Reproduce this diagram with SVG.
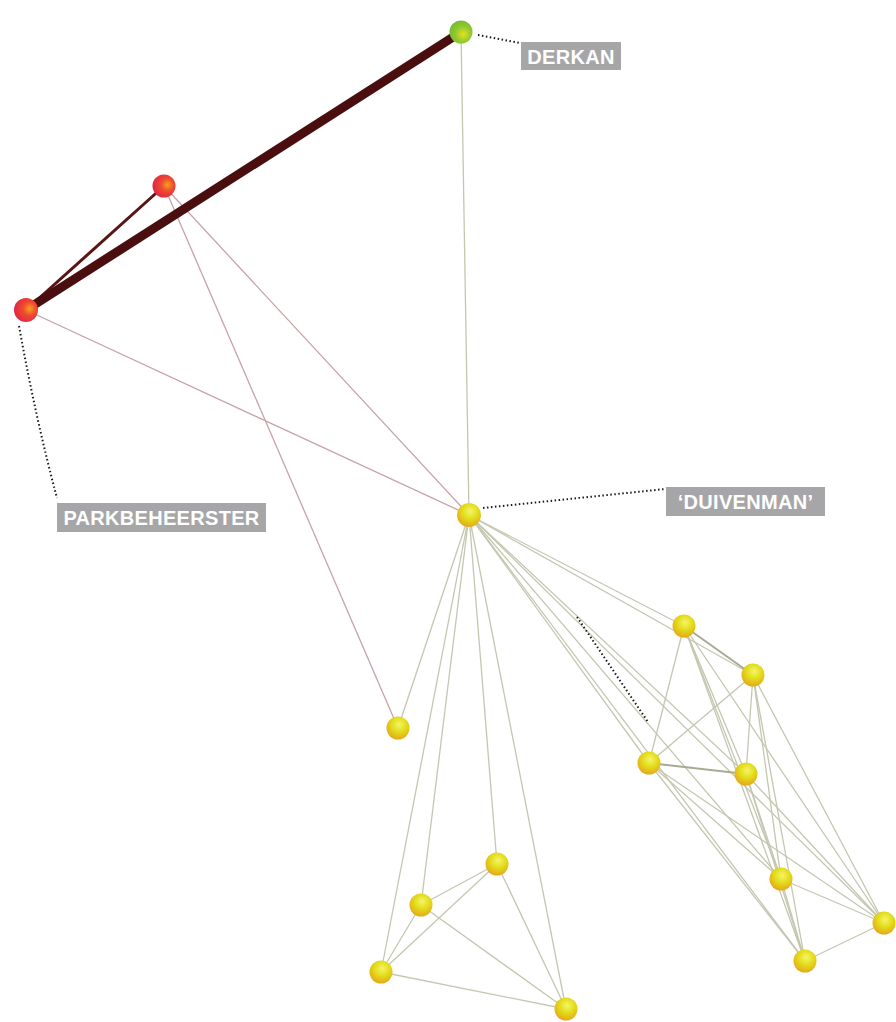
<svg xmlns="http://www.w3.org/2000/svg" width="896" height="1022" viewBox="0 0 896 1022">
<defs>
<radialGradient id="gy" cx="0.55" cy="0.35" r="0.7">
<stop offset="0" stop-color="#f6f36a"/>
<stop offset="0.45" stop-color="#e2de1c"/>
<stop offset="1" stop-color="#e6a018"/>
</radialGradient>
<radialGradient id="gr" cx="0.65" cy="0.45" r="0.7">
<stop offset="0" stop-color="#f7a020"/>
<stop offset="0.4" stop-color="#ee4a30"/>
<stop offset="1" stop-color="#e02048"/>
</radialGradient>
<radialGradient id="gg" cx="0.6" cy="0.6" r="0.7">
<stop offset="0" stop-color="#e8e020"/>
<stop offset="0.5" stop-color="#90c830"/>
<stop offset="1" stop-color="#6cb830"/>
</radialGradient>
</defs>
<style>
.e{stroke:#c4c7b0;stroke-width:1.3;fill:none}
.e2{stroke:#a8ab92;stroke-width:2;fill:none}
.p{stroke:#c8a2a6;stroke-width:1.3;fill:none}
.d{stroke:#1a1a1a;stroke-width:2;stroke-dasharray:1.5 2.5;fill:none}
.lb{fill:#a6a6a8}
.lt{fill:#ffffff;font-family:"Liberation Sans",Arial,sans-serif;font-weight:bold;font-size:20px;letter-spacing:0.3px}
</style>
<rect width="896" height="1022" fill="#ffffff"/>
<g id="connectors">
<line class="e" x1="461" y1="32" x2="469" y2="515"/>
<line class="p" x1="164" y1="186" x2="469" y2="515"/>
<line class="p" x1="164" y1="186" x2="398" y2="728"/>
<line class="p" x1="26" y1="310" x2="469" y2="515"/>
<line x1="26" y1="310" x2="164" y2="186" stroke="#5a1414" stroke-width="3"/>
<line x1="26" y1="310" x2="461" y2="32" stroke="#4a0e0e" stroke-width="9"/>
<line class="e" x1="469" y1="515" x2="398" y2="728"/>
<line class="e" x1="469" y1="515" x2="497" y2="864"/>
<line class="e" x1="469" y1="515" x2="421" y2="905"/>
<line class="e" x1="469" y1="515" x2="381" y2="972"/>
<line class="e" x1="469" y1="515" x2="566" y2="1009"/>
<line class="e" x1="469" y1="515" x2="684" y2="626"/>
<line class="e" x1="469" y1="515" x2="753" y2="675"/>
<line class="e" x1="469" y1="515" x2="649" y2="763"/>
<line class="e" x1="469" y1="515" x2="746" y2="774"/>
<line class="e" x1="469" y1="515" x2="781" y2="879"/>
<line class="e" x1="469" y1="515" x2="884" y2="923"/>
<line class="e" x1="469" y1="515" x2="805" y2="961"/>
<line class="e" x1="497" y1="864" x2="421" y2="905"/>
<line class="e" x1="497" y1="864" x2="381" y2="972"/>
<line class="e" x1="497" y1="864" x2="566" y2="1009"/>
<line class="e" x1="421" y1="905" x2="381" y2="972"/>
<line class="e" x1="421" y1="905" x2="566" y2="1009"/>
<line class="e" x1="381" y1="972" x2="566" y2="1009"/>
<line class="e2" x1="684" y1="626" x2="753" y2="675"/>
<line class="e" x1="684" y1="626" x2="649" y2="763"/>
<line class="e" x1="684" y1="626" x2="746" y2="774"/>
<line class="e" x1="684" y1="626" x2="781" y2="879"/>
<line class="e" x1="684" y1="626" x2="805" y2="961"/>
<line class="e" x1="684" y1="626" x2="884" y2="923"/>
<line class="e" x1="753" y1="675" x2="649" y2="763"/>
<line class="e" x1="753" y1="675" x2="746" y2="774"/>
<line class="e" x1="753" y1="675" x2="781" y2="879"/>
<line class="e" x1="753" y1="675" x2="884" y2="923"/>
<line class="e" x1="753" y1="675" x2="805" y2="961"/>
<line class="e2" x1="649" y1="763" x2="746" y2="774"/>
<line class="e" x1="649" y1="763" x2="781" y2="879"/>
<line class="e" x1="649" y1="763" x2="805" y2="961"/>
<line class="e" x1="649" y1="763" x2="884" y2="923"/>
<line class="e" x1="746" y1="774" x2="781" y2="879"/>
<line class="e" x1="746" y1="774" x2="805" y2="961"/>
<line class="e" x1="746" y1="774" x2="884" y2="923"/>
<line class="e" x1="781" y1="879" x2="884" y2="923"/>
<line class="e" x1="781" y1="879" x2="805" y2="961"/>
<line class="e" x1="805" y1="961" x2="884" y2="923"/>
<line class="d" x1="577" y1="617" x2="648" y2="722"/>
</g>
<g id="derkan">
<circle cx="461" cy="32" r="11.5" fill="url(#gg)"/>
<line class="d" x1="478" y1="35" x2="520" y2="43"/>
<rect class="lb" x="521" y="42" width="100" height="28"/>
<text class="lt" x="571" y="63.5" text-anchor="middle">DERKAN</text>
</g>
<g id="red1">
<circle cx="164" cy="186" r="11.5" fill="url(#gr)"/>
</g>
<g id="parkbeheerster">
<circle cx="26" cy="310" r="12" fill="url(#gr)"/>
<path class="d" d="M19 326 Q36 420 57 498"/>
<rect class="lb" x="57" y="503" width="209" height="29"/>
<text class="lt" x="161.5" y="525" text-anchor="middle">PARKBEHEERSTER</text>
</g>
<g id="duivenman">
<circle cx="469" cy="515" r="12" fill="url(#gy)"/>
<line class="d" x1="483" y1="508" x2="665" y2="489"/>
<rect class="lb" x="666" y="487" width="159" height="29"/>
<text class="lt" x="745.5" y="509" text-anchor="middle">‘DUIVENMAN’</text>
</g>
<g id="nodes">
<circle id="nA" cx="398" cy="728" r="11.5" fill="url(#gy)"/>
<circle id="nC1" cx="684" cy="626" r="11.5" fill="url(#gy)"/>
<circle id="nC2" cx="753" cy="675" r="11.5" fill="url(#gy)"/>
<circle id="nC3" cx="649" cy="763" r="11.5" fill="url(#gy)"/>
<circle id="nC4" cx="746" cy="774" r="11.5" fill="url(#gy)"/>
<circle id="nC5" cx="781" cy="879" r="11.5" fill="url(#gy)"/>
<circle id="nC6" cx="884" cy="923" r="11.5" fill="url(#gy)"/>
<circle id="nC7" cx="805" cy="961" r="11.5" fill="url(#gy)"/>
<circle id="nB1" cx="497" cy="864" r="11.5" fill="url(#gy)"/>
<circle id="nB2" cx="421" cy="905" r="11.5" fill="url(#gy)"/>
<circle id="nB3" cx="381" cy="972" r="11.5" fill="url(#gy)"/>
<circle id="nB4" cx="566" cy="1009" r="11.5" fill="url(#gy)"/>
</g>
</svg>
